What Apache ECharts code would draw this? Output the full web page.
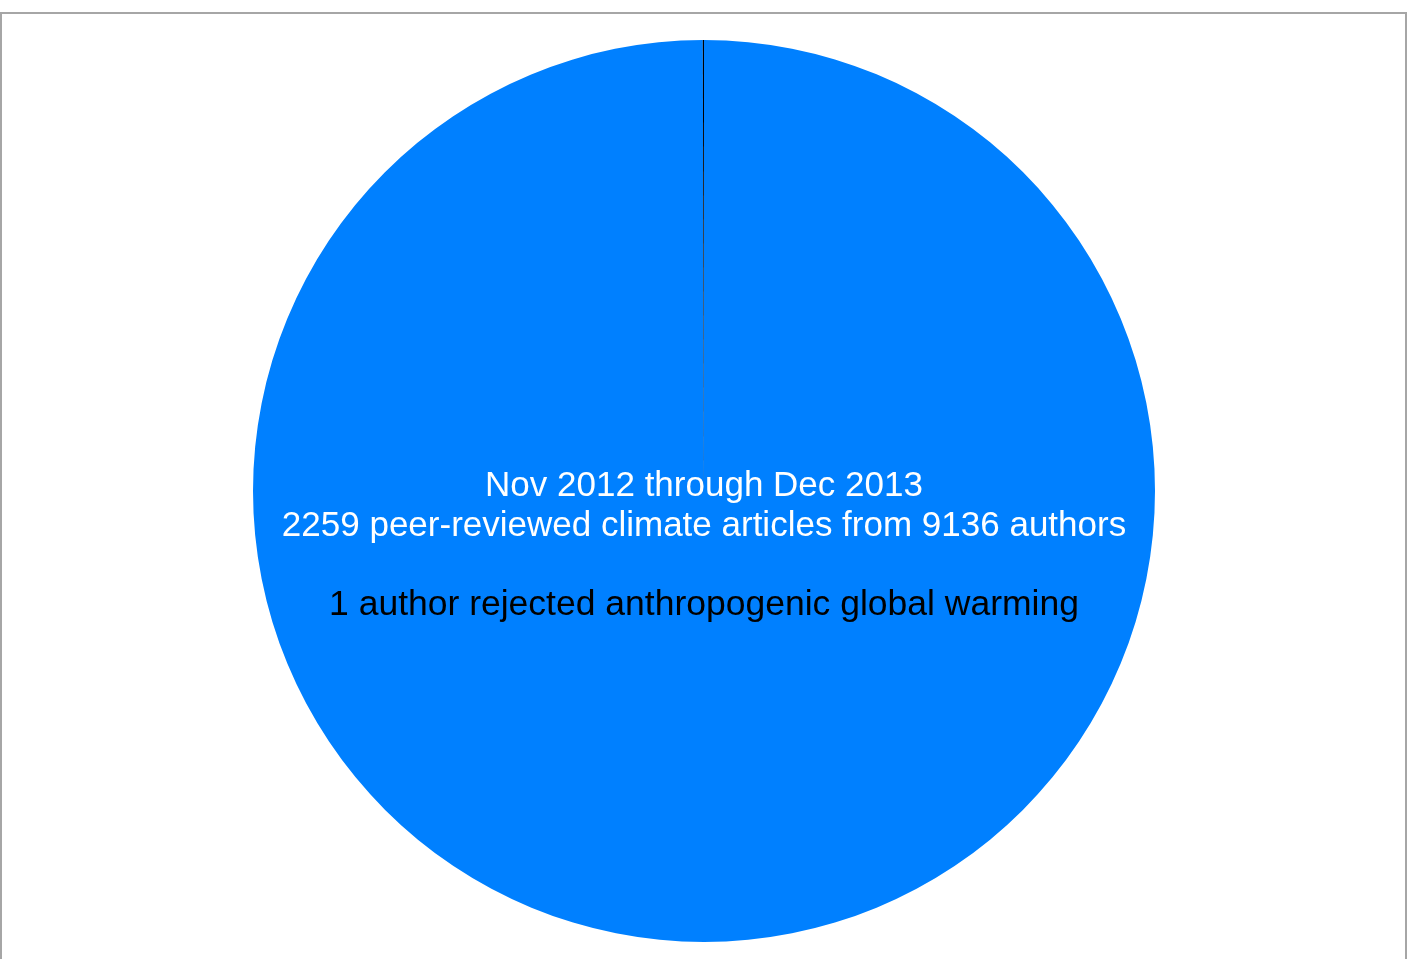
<!DOCTYPE HTML>
<html lang="en">
<head>
<meta charset="utf-8">
<title>Climate articles pie</title>
<style>
html, body {
  margin: 0;
  background: #ffffff;
}
#chart {
  width: 1408px;
  height: 959px;
}
</style>
</head>
<body>
<div id="chart"></div>
<script src="https://cdn.jsdelivr.net/npm/echarts@6/dist/echarts.min.js"></script>
<script>
var categories = ['Accepted or no position', 'Rejected anthropogenic global warming'];
var authorCounts = [9135, 1];
var sliceColors = ['#0080ff', '#000000'];
var whiteLines = ['Nov 2012 through Dec 2013', '2259 peer-reviewed climate articles from 9136 authors'];
var blackLine = '1 author rejected anthropogenic global warming';

var chart = echarts.init(document.getElementById('chart'));
chart.setOption({
  animation: false,
  title: {
    left: 'center',
    top: 467,
    padding: 0,
    text: whiteLines.map(function (l) { return '{w|' + l + '}'; }).join('\n') + '\n\n{b|' + blackLine + '}',
    textStyle: {
      fontFamily: 'Liberation Sans, Arial, sans-serif',
      fontSize: 35,
      fontWeight: 'normal',
      lineHeight: 39.5,
      rich: {
        w: { color: '#ffffff', fontSize: 35, lineHeight: 39.5, fontFamily: 'Liberation Sans' },
        b: { color: '#000000', fontSize: 35.5, lineHeight: 39.5, fontFamily: 'Liberation Sans' }
      }
    }
  },
  graphic: [{
    type: 'rect',
    shape: { x: 1, y: 13, width: 1405, height: 1000 },
    style: { fill: 'none', stroke: '#a6a6a6', lineWidth: 2 },
    silent: true
  }],
  series: [{
    type: 'pie',
    center: [704, 491],
    radius: 451,
    startAngle: 90,
    clockwise: true,
    minAngle: 0.15,
    label: { show: false },
    labelLine: { show: false },
    emphasis: { disabled: true },
    data: categories.map(function (name, i) {
      return { name: name, value: authorCounts[i], itemStyle: { color: sliceColors[i] } };
    })
  }]
});
</script>
</body>
</html>
